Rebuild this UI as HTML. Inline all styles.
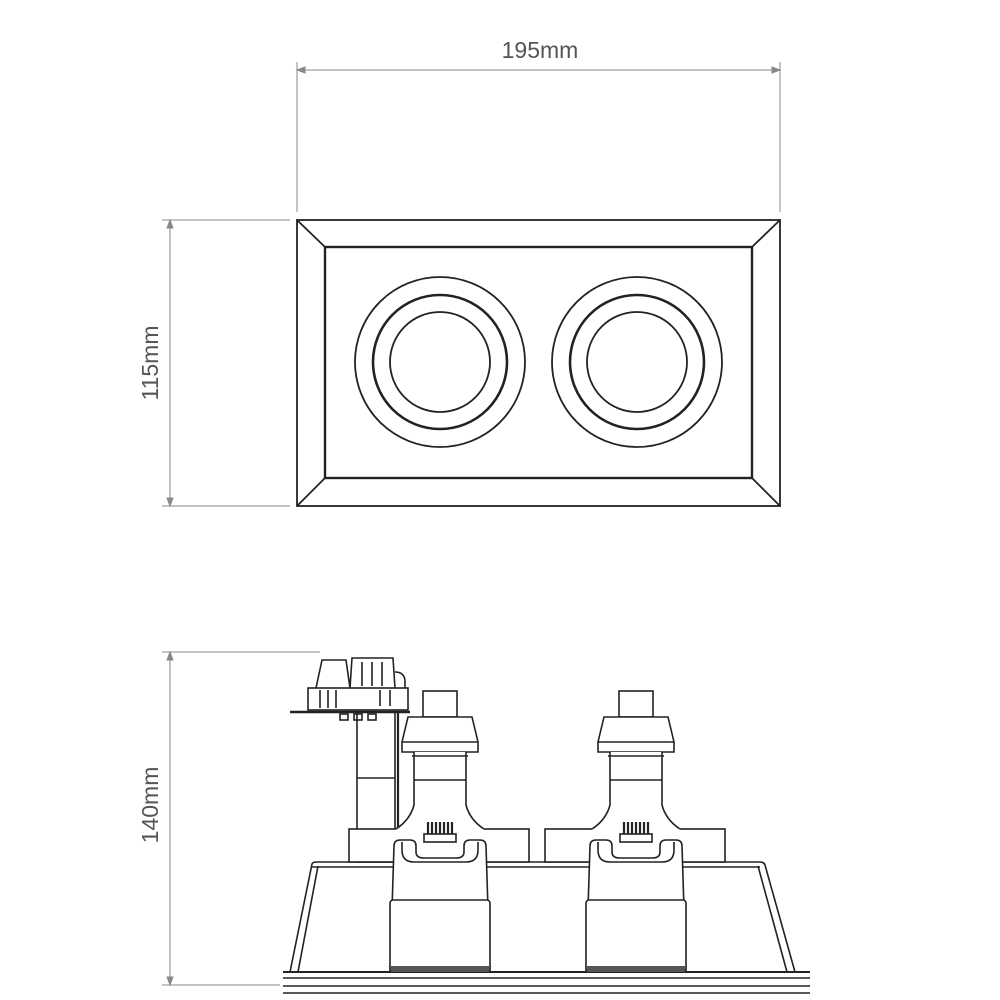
<!DOCTYPE html>
<html><head><style>body{margin:0;background:#fff}svg{display:block}</style></head>
<body>
<svg width="1000" height="1000" viewBox="0 0 1000 1000" xmlns="http://www.w3.org/2000/svg" font-family="Liberation Sans, sans-serif">
<defs>
<g id="unit" fill="none" stroke="#222" stroke-width="1.6">
  <!-- back box -->
  <rect x="-91" y="829" width="180" height="33" fill="#fff"/>
  <!-- lamp -->
  <rect x="-17" y="691" width="34" height="26" fill="#fff"/>
  <path d="M-32 717 H32 L38 742 V752 H-38 V742 Z" fill="#fff"/>
  <line x1="-38" y1="742" x2="38" y2="742"/>
  <path d="M-26 752 H26 V805 Q30 820 44 829 V850 H-44 V829 Q-30 820 -26 805 Z" fill="#fff" stroke="none"/>
  <path d="M-26 752 V805 Q-30 820 -44 829 M26 752 V805 Q30 820 44 829" />
  <path d="M-28 756 H28 M-26 780 H26" />
  <!-- holder -->
  <path d="M-50 972 L-46 846 Q-46 840 -40 840 H-30 Q-24 840 -24 846 V852 Q-24 858 -16 858 H16 Q24 858 24 852 V846 Q24 840 30 840 H40 Q46 840 46 846 L50 972" fill="#fff"/>
  <path d="M-38 842 V850 Q-38 862 -26 862 H26 Q38 862 38 850 V842"/>
  <rect x="-16" y="834" width="32" height="8" fill="#fff"/>
  <path d="M-12 822 V834 M-8 822 V834 M-4 822 V834 M0 822 V834 M4 822 V834 M8 822 V834 M12 822 V834" stroke-width="2.2"/>
  <rect x="-50" y="900" width="100" height="72" rx="3" fill="#fff"/>
  <rect x="-49" y="966" width="98" height="6" fill="#555" stroke="none"/>
</g>
</defs>
<g stroke="#888" stroke-width="1" fill="none">
  <line x1="297" y1="70" x2="780" y2="70"/>
  <line x1="297" y1="62" x2="297" y2="212"/>
  <line x1="780" y1="62" x2="780" y2="212"/>
  <path d="M297 70 l8 -3 v6 z M780 70 l-8 -3 v6 z" fill="#888"/>
  <line x1="170" y1="220" x2="170" y2="506"/>
  <line x1="162" y1="220" x2="290" y2="220"/>
  <line x1="162" y1="506" x2="290" y2="506"/>
  <path d="M170 220 l-3 8 h6 z M170 506 l-3 -8 h6 z" fill="#888"/>
  <line x1="170" y1="652" x2="170" y2="985"/>
  <line x1="162" y1="652" x2="320" y2="652"/>
  <line x1="162" y1="985" x2="280" y2="985"/>
  <path d="M170 652 l-3 8 h6 z M170 985 l-3 -8 h6 z" fill="#888"/>
</g>
<g fill="#555" font-size="23">
  <text x="540" y="58" text-anchor="middle">195mm</text>
  <text transform="translate(158 363) rotate(-90)" text-anchor="middle">115mm</text>
  <text transform="translate(158 805) rotate(-90)" text-anchor="middle">140mm</text>
</g>
<!-- top view -->
<g fill="none" stroke="#222" stroke-width="1.8">
  <rect x="297" y="220" width="483" height="286"/>
  <rect x="325" y="247" width="427" height="231" stroke-width="2.4"/>
  <path d="M297 220 L325 247 M780 220 L752 247 M297 506 L325 478 M780 506 L752 478"/>
  <circle cx="440" cy="362" r="85"/>
  <circle cx="440" cy="362" r="67" stroke-width="2.6"/>
  <circle cx="440" cy="362" r="50"/>
  <circle cx="637" cy="362" r="85"/>
  <circle cx="637" cy="362" r="67" stroke-width="2.6"/>
  <circle cx="637" cy="362" r="50"/>
</g>
<!-- side view -->
<g fill="none" stroke="#222" stroke-width="1.6">
  <path d="M290 972 L312 864 Q313 862 316 862 H760 Q764 862 765 865 L795 972"/>
  <path d="M298 972 L318 866 M758 866 L787 972"/>
  <line x1="312" y1="867" x2="760" y2="867"/>
  <line x1="283" y1="972" x2="810" y2="972" stroke-width="2"/>
  <line x1="283" y1="978" x2="810" y2="978"/>
  <line x1="283" y1="986" x2="810" y2="986"/>
  <line x1="283" y1="993" x2="810" y2="993"/>
  <rect x="357" y="712" width="38" height="150" fill="#fff"/>
  <line x1="357" y1="778" x2="395" y2="778"/>
  <line x1="398" y1="712" x2="398" y2="830" stroke-width="2.2"/>
  <line x1="290" y1="712" x2="410" y2="712" stroke-width="2.5"/>
  <rect x="308" y="688" width="100" height="22" fill="#fff"/>
  <path d="M316 688 L322 660 H346 L350 688 M350 688 L352 658 H393 L395 688"/>
  <path d="M362 662 V686 M372 662 V686 M382 662 V686 M320 690 V708 M328 690 V708 M336 690 V708 M380 690 V706 M390 690 V706"/>
  <rect x="340" y="714" width="8" height="6"/>
  <rect x="354" y="714" width="8" height="6"/>
  <rect x="368" y="714" width="8" height="6"/>
  <path d="M395 672 Q405 672 405 682 V688"/>
</g>
<use href="#unit" x="440" y="0"/>
<use href="#unit" x="636" y="0"/>
</svg>
</body></html>
